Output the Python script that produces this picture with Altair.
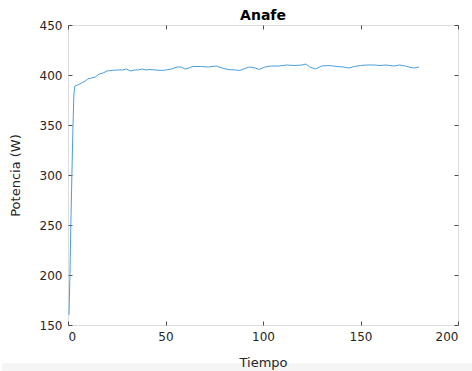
import altair as alt
import pandas as pd

tiempo = [0.5, 1, 1.5, 2, 2.5, 3, 3.5, 5, 7, 9, 10, 12, 14, 16, 18, 20, 22, 25, 28, 30,
          32, 34, 36, 38, 40, 42, 45, 48, 50, 53, 56, 58, 60, 62, 64, 68, 72, 76, 79, 82,
          86, 88, 90, 93, 96, 98, 101, 104, 108, 112, 116, 120, 122, 124, 127, 130, 134,
          138, 141, 144, 147, 150, 153, 157, 160, 163, 167, 170, 173, 175, 177, 179, 180]
potencia = [160, 200, 255, 300, 345, 380, 389, 390, 392, 394, 396, 397, 398, 401, 402, 404,
            404.5, 405, 405, 406, 404, 405, 405, 406, 405, 405.5, 405, 404.5, 405, 406, 408,
            408, 406, 407, 408.5, 408.5, 408, 409, 407, 405.5, 405, 404.5, 406, 408, 407,
            405.5, 408, 409, 409, 410, 409.5, 410, 411, 408, 406, 409, 409.5, 408.5, 408,
            407, 408.5, 409.5, 410, 410, 409.5, 410, 409, 410, 409, 408, 407, 407.5, 408]
x_ticks = [0, 50, 100, 150, 200]
y_ticks = [150, 200, 250, 300, 350, 400, 450]

df = pd.DataFrame({"Tiempo": tiempo, "Potencia": potencia})

FONT = "DejaVu Sans"
AX = "#4d4d4d"
TXT = "#262626"

xs = alt.Scale(domain=[0, 200], nice=False)
ys = alt.Scale(domain=[150, 450], nice=False)

line = alt.Chart(df).mark_line(color="#4a9fdc", strokeWidth=1, clip=True).encode(
    x=alt.X("Tiempo:Q", scale=xs, title="Tiempo",
            axis=alt.Axis(values=x_ticks, ticks=False, domain=False, grid=False,
                          labelFont=FONT, labelFontSize=12, labelColor=TXT,
                          titleFont=FONT, titleFontSize=13, titleFontWeight="normal",
                          titleColor=TXT, labelPadding=6, titlePadding=14,
                          orient="bottom", zindex=2)),
    y=alt.Y("Potencia:Q", scale=ys, title="Potencia (W)",
            axis=alt.Axis(values=y_ticks, ticks=False, domain=False, grid=False,
                          labelFont=FONT, labelFontSize=12, labelColor=TXT,
                          titleFont=FONT, titleFontSize=13, titleFontWeight="normal",
                          titleColor=TXT, labelPadding=6, titlePadding=17,
                          orient="left", zindex=2)),
)


def tick_layer(xo, yo):
    return alt.Chart(df).mark_point(opacity=0).encode(
        x=alt.X("Tiempo:Q", scale=xs, title=None,
                axis=alt.Axis(values=x_ticks, tickSize=4, labels=False, domain=False,
                              grid=False, tickColor=AX, orient=xo, offset=-4)),
        y=alt.Y("Potencia:Q", scale=ys, title=None,
                axis=alt.Axis(values=y_ticks, tickSize=4, labels=False, domain=False,
                              grid=False, tickColor=AX, orient=yo, offset=-4)),
    )


band = alt.Chart(df).mark_rect(color="#f5f5f5", clip=False).encode(
    x=alt.value(-66), x2=alt.value(404), y=alt.value(338), y2=alt.value(346)
)

chart = alt.layer(band, line, tick_layer("bottom", "left"), tick_layer("top", "right")).resolve_axis(
    x="independent", y="independent"
).properties(
    width=390, height=300,
    title=alt.TitleParams("Anafe", font=FONT, fontSize=14, fontWeight="bold",
                          color="#000000", offset=-4),
    autosize=alt.AutoSizeParams(type="none"),
    padding={"left": 68, "top": 25, "right": 14, "bottom": 46},
).configure_view(stroke=AX, strokeWidth=1).configure(background="white")

chart.save("out.html", embed_options={"renderer": "svg", "actions": False})
